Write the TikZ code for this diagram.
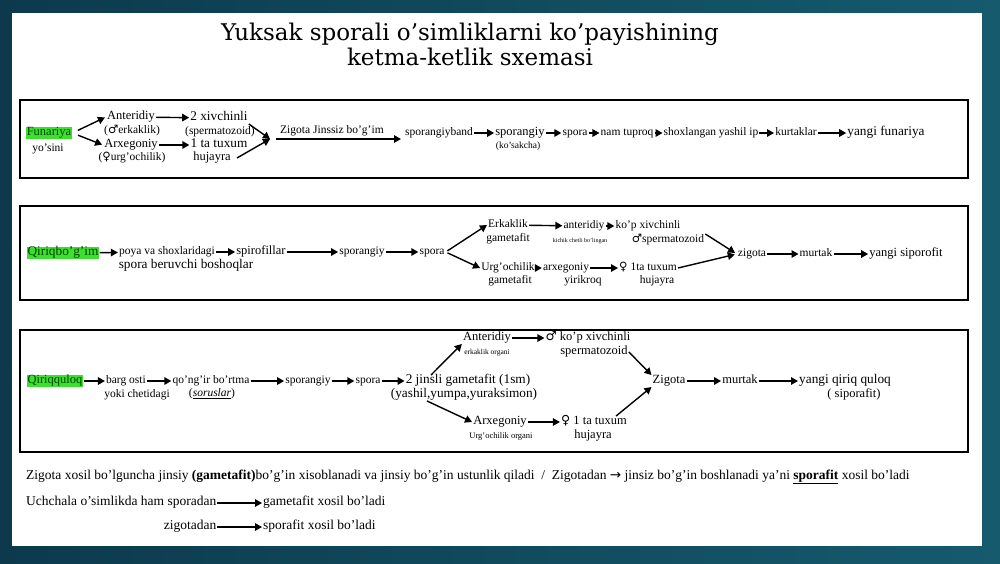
\documentclass[tikz,border=0pt]{standalone}
\usepackage{fontspec}
\setmainfont{Liberation Serif}
\newfontfamily\titlefont{DejaVu Serif}
\newfontfamily\symfont{DejaVu Sans}
\usetikzlibrary{arrows.meta}
\newcommand{\msym}{{\symfont\char"2642}}
\newcommand{\fsym}{{\symfont\char"2640}}
\definecolor{bgL}{RGB}{12,58,76}
\definecolor{bgM}{RGB}{34,112,148}
\definecolor{bgR}{RGB}{22,90,110}
\definecolor{hlgreen}{RGB}{60,225,45}
\begin{document}
\begin{tikzpicture}[x=1pt,y=-1pt,
  every node/.style={text height=0.72em, text depth=0.24em},
  t/.style={font=\fontsize{11.5}{12}\selectfont, inner sep=1pt},
  tl/.style={font=\fontsize{12.5}{13}\selectfont, inner sep=1pt},
  tx/.style={font=\fontsize{13.3}{14}\selectfont, inner sep=1pt},
  ts/.style={font=\fontsize{6}{7}\selectfont, inner sep=0.5pt},
  tb/.style={font=\fontsize{13.5}{15}\selectfont, inner sep=1pt},
  hl/.style={fill=hlgreen, text=black!75!green},
  ttl/.style={font=\titlefont\fontsize{23}{26}\selectfont, inner sep=0pt},
  arr/.style={-{Triangle[length=7pt,width=7.5pt]}, line width=1.4pt},
  frame/.style={draw=black, line width=1.6pt}]
\useasboundingbox (0,0) rectangle (1000,563);
\shade[left color=bgL, middle color=bgM, right color=bgR] (0,0) rectangle (1000,563);
\fill[white] (12,13) rectangle (982,546);

% title
\node[ttl] (t1) at (470,38) {Yuksak sporali o’simliklarni ko’payishining};
\node[ttl] (t2) at (470,63) {ketma-ketlik sxemasi};

% frames
\draw[frame] (20,100) rectangle (968,178);
\draw[frame] (20,206) rectangle (968,300);
\draw[frame] (20,330) rectangle (968,452);

% ---------- box 1 ----------
\node[tl, hl] (fun) at (49,133) {Funariya};
\node[t] (yos) at (48,149) {yo'sini};
\node[tl] (ant) at (131,117) {Anteridiy};
\node[t] (antb) at (132,131) {(\msym erkaklik)};
\node[tl] (arx) at (131,145) {Arxegoniy};
\node[t] (arxb) at (132,158) {(\fsym urg'ochilik)};
\node[tx] (xiv) at (219,118) {2 xivchinli};
\node[t] (spz) at (220,132) {(spermatozoid)};
\node[tx] (tux) at (219,145) {1 ta tuxum};
\node[tl] (huj) at (212,158) {hujayra};
\node[t, anchor=west] (zig) at (279,131) {Zigota Jinssiz bo'g'im};
\node[t, anchor=west] (spb) at (404,133) {sporangiyband};
\node[tl] (sp1) at (520,133) {sporangiy};
\node[t, font=\fontsize{9.5}{10}\selectfont] (ks) at (518,146) {(ko'sakcha)};
\node[t] (spo1) at (575,133) {spora};
\node[t] (nam) at (627,133) {nam tuproq};
\node[t] (shx) at (711,133) {shoxlangan yashil ip};
\node[t] (kur) at (796,133) {kurtaklar};
\node[tx] (yf) at (886,133) {yangi funariya};
\coordinate (zin) at (270,139);

\draw[arr, shorten <=6pt, shorten >=1pt] (fun.east) -- (ant.west);
\draw[arr, shorten <=6pt, shorten >=1pt] (fun.east) -- (arx.west);
\draw[arr] (ant) -- (xiv);
\draw[arr] (arx) -- (tux);
\draw[arr] (xiv.south east) -- (zin);
\draw[arr] ([xshift=5pt]huj.east) -- (zin);
\draw[arr] ([xshift=6pt]zin) -- ([xshift=-3pt]zin -| spb.west);
\draw[arr] (spb) -- (sp1);
\draw[arr] (sp1) -- (spo1);
\draw[arr] (spo1) -- (nam);
\draw[arr] (nam) -- (shx);
\draw[arr] (shx) -- (kur);
\draw[arr] (kur) -- (yf);

% ---------- box 2 ----------
\node[tx, hl] (qb) at (63,253) {Qiriqbo'g'im};
\node[t] (poya) at (167,252) {poya va shoxlaridagi};
\node[tx] (sbb) at (186,266) {spora beruvchi boshoqlar};
\node[tl] (spf) at (261,252) {spirofillar};
\node[t] (sp2) at (362,252) {sporangiy};
\node[t] (spo2) at (432,252) {spora};
\node[t] (erk) at (508,225) {Erkaklik};
\node[t] (erkg) at (508,239) {gametafit};
\node[t] (ant2) at (584,226) {anteridiy};
\node[ts] (ant2b) at (580,240) {kichik chetli bo'lingan};
\node[t] (kxv) at (648,226) {ko'p xivchinli};
\node[t] (spz2) at (668,240) {\msym spermatozoid};
\node[t] (urg) at (508,268) {Urg'ochilik};
\node[t] (urgg) at (510,281) {gametafit};
\node[t] (arx2) at (566,268) {arxegoniy};
\node[t] (yir) at (583,281) {yirikroq};
\node[t] (tux2) at (648,268) {\fsym\ 1ta tuxum};
\node[t] (huj2) at (657,281) {hujayra};
\node[t] (zg2) at (752,254) {zigota};
\node[t] (mur2) at (816,254) {murtak};
\node[tl] (ys2) at (906,254) {yangi siporofit};

\draw[arr] (qb) -- (poya);
\draw[arr] (poya) -- (spf);
\draw[arr] (spf) -- (sp2);
\draw[arr] (sp2) -- (spo2);
\draw[arr, shorten <=2pt] (spo2.east) -- (erk.west);
\draw[arr, shorten <=2pt] (spo2.east) -- (urg.west);
\draw[arr] (erk) -- (ant2);
\draw[arr] (ant2) -- (kxv);
\draw[arr] (urg) -- (arx2);
\draw[arr] (arx2) -- (tux2);
\draw[arr, shorten >=2pt] (spz2.north east) -- (zg2.west);
\draw[arr, shorten >=2pt] (tux2.east) -- (zg2.west);
\draw[arr] (zg2) -- (mur2);
\draw[arr] (mur2) -- (ys2);

% ---------- box 3 ----------
\node[tl, hl] (qq) at (55,381) {Qiriqquloq};
\node[t] (bo) at (126,381) {barg osti};
\node[t] (yc) at (137,395) {yoki chetidagi};
\node[t] (qbr) at (211,381) {qo'ng'ir bo'rtma};
\node[t] (sor) at (212,394) {(\underline{\textit{soruslar}})};
\node[t] (sp3) at (308,381) {sporangiy};
\node[t] (spo3) at (368,381) {spora};
\node[tx] (gam) at (468,381) {2 jinsli gametafit (1sm)};
\node[tx] (gamb) at (464,395) {(yashil,yumpa,yuraksimon)};
\node[tl] (ant3) at (487,338) {Anteridiy};
\node[ts, font=\fontsize{7.5}{8}\selectfont] (ant3b) at (487,352) {erkaklik organi};
\node[tl] (kxv3) at (588,338) {\msym\ ko'p xivchinli};
\node[tl] (spz3) at (594,352) {spermatozoid};
\node[tl] (arx3) at (500,422) {Arxegoniy};
\node[ts, font=\fontsize{8.5}{9}\selectfont] (arx3b) at (501,436) {Urg'ochilik organi};
\node[tl] (tux3) at (594,422) {\fsym\ 1 ta tuxum};
\node[tl] (huj3) at (593,436) {hujayra};
\node[tl] (zg3) at (669,381) {Zigota};
\node[tl] (mur3) at (740,381) {murtak};
\node[tx] (yq) at (845,381) {yangi qiriq quloq};
\node[tl] (ysp) at (854,395) {( siporafit)};

\draw[arr] (qq) -- (bo);
\draw[arr] (bo) -- (qbr);
\draw[arr] (qbr) -- (sp3);
\draw[arr] (sp3) -- (spo3);
\draw[arr] (spo3) -- (gam);
\draw[arr] ([xshift=-37pt]gam.north) -- (ant3.south west);
\draw[arr] ([xshift=-37pt]gamb.south) -- (arx3.west);
\draw[arr] (ant3) -- (kxv3);
\draw[arr] (arx3) -- (tux3);
\draw[arr] (spz3.east) -- (zg3.north west);
\draw[arr] ([xshift=-12pt]tux3.north east) -- (zg3.south west);
\draw[arr] (zg3) -- (mur3);
\draw[arr] (mur3) -- (yq);

% ---------- bottom notes ----------
\node[tb, anchor=west] (l1) at (25,477) {Zigota xosil bo'lguncha jinsiy \textbf{(gametafit)}bo'g'in xisoblanadi va jinsiy bo'g'in ustunlik qiladi\enspace/\enspace Zigotadan {\symfont →} jinsiz bo'g'in boshlanadi ya'ni \textbf{\underline{sporafit}} xosil bo'ladi};
\node[tb, anchor=west] (l2) at (25,503) {Uchchala o'simlikda ham sporadan};
\node[tb, anchor=west] (l2b) at (262,503) {gametafit xosil bo'ladi};
\node[tb, anchor=east] (l3) at (l2.east |- 0,527) {zigotadan};
\node[tb, anchor=west] (l3b) at (262,527) {sporafit xosil bo'ladi};
\draw[arr] (l2) -- (l2b);
\draw[arr] (l3) -- (l3b);
\end{tikzpicture}
\end{document}
